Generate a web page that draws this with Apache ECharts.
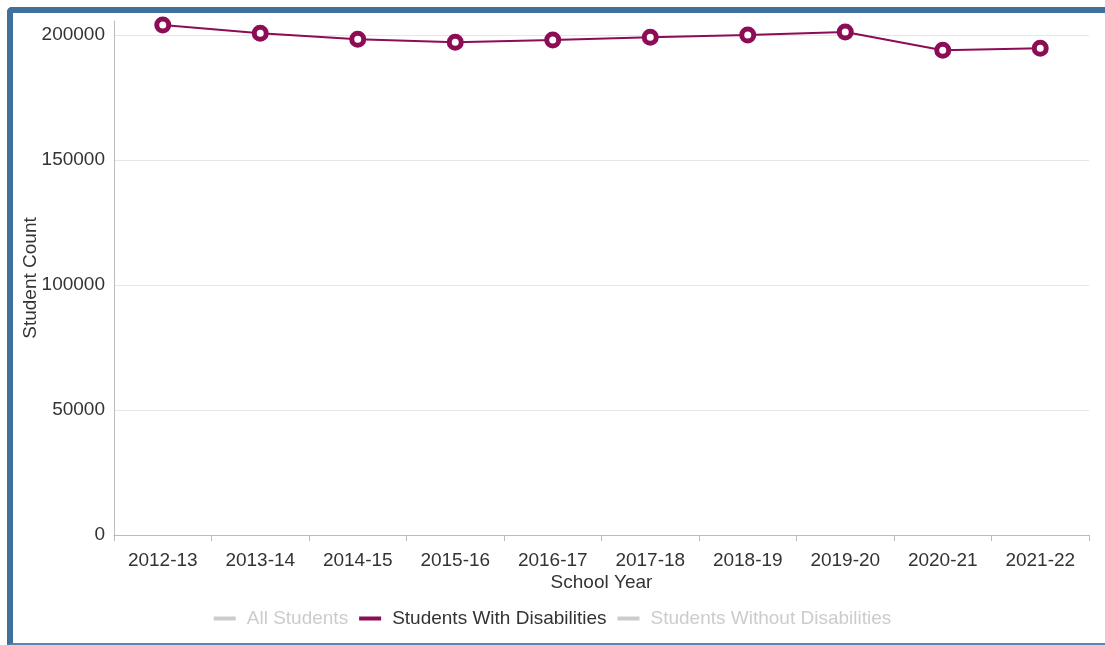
<!DOCTYPE html>
<html>
<head>
<meta charset="utf-8">
<script src="https://cdn.jsdelivr.net/npm/echarts@6/dist/echarts.min.js"></script>
<style>
  html, body { margin: 0; padding: 0; background: #fff; width: 1105px; height: 645px; overflow: hidden; }
  #frame { position: absolute; left: 7px; top: 7px; width: 1104px; height: 630px;
           border-left: 6px solid #41709f; border-top: 6px solid #41709f; border-bottom: 2px solid #5a86b3;
           border-top-left-radius: 5px; box-sizing: content-box; }
  #chart { position: absolute; left: 0; top: 0; width: 1105px; height: 645px; }
</style>
</head>
<body>
<div id="frame"></div>
<div id="chart"></div>
<script>
const categories = ['2012-13','2013-14','2014-15','2015-16','2016-17','2017-18','2018-19','2019-20','2020-21','2021-22'];
const allStudents = [];
const withDisabilities = [204000, 200700, 198300, 197100, 198000, 199100, 200000, 201200, 193900, 194700];
const withoutDisabilities = [];
const seriesNames = ['All Students', 'Students With Disabilities', 'Students Without Disabilities'];

const FONT = 'Liberation Sans, Arial, sans-serif';
const MAROON = '#8c0c55';
const chart = echarts.init(document.getElementById('chart'), null, { renderer: 'canvas' });
chart.setOption({
  animation: false,
  textStyle: { fontFamily: FONT },
  grid: { left: 114, right: 16, top: 21, bottom: 110 },
  legend: {
    data: [
      { name: seriesNames[0], itemStyle: { color: '#cccccc', borderWidth: 0 } },
      { name: seriesNames[1], itemStyle: { color: MAROON, borderWidth: 0 } },
      { name: seriesNames[2], itemStyle: { color: '#cccccc', borderWidth: 0 } }
    ],
    bottom: 12,
    left: 'center',
    icon: 'rect',
    itemWidth: 22,
    itemHeight: 4,
    itemGap: 11,
    textStyle: { fontSize: 19, color: '#333', fontFamily: FONT, padding: [0, 0, 0, 6] },
    inactiveColor: '#cccccc',
    selected: { 'All Students': false, 'Students With Disabilities': true, 'Students Without Disabilities': false }
  },
  xAxis: {
    type: 'category',
    data: categories,
    boundaryGap: true,
    name: 'School Year',
    nameLocation: 'middle',
    nameGap: 38,
    nameMoveOverlap: false,
    nameTextStyle: { fontSize: 19, color: '#333', fontFamily: FONT },
    axisLine: { lineStyle: { color: '#bbbbbb', width: 1 } },
    axisTick: { show: true, alignWithLabel: false, length: 6, lineStyle: { color: '#bbbbbb' } },
    axisLabel: { fontSize: 19, color: '#333', margin: 16, fontFamily: FONT }
  },
  yAxis: {
    type: 'value',
    min: 0,
    max: 205600,
    interval: 50000,
    name: 'Student Count',
    nameLocation: 'middle',
    nameGap: 74,
    nameMoveOverlap: false,
    nameRotate: 90,
    nameTextStyle: { fontSize: 19, color: '#333', fontFamily: FONT },
    axisLine: { show: true, lineStyle: { color: '#bbbbbb', width: 1 } },
    axisTick: { show: false },
    axisLabel: {
      fontSize: 19, color: '#333', margin: 9, fontFamily: FONT,
      showMaxLabel: false,
      formatter: function (v) { return (v % 50000 === 0) ? String(v) : ''; }
    },
    splitLine: { show: true, showMaxLine: false, lineStyle: { color: '#e6e6e6', width: 1 } }
  },
  series: [
    { name: seriesNames[0], type: 'line', data: allStudents, itemStyle: { color: '#cccccc' } },
    {
      name: seriesNames[1], type: 'line', data: withDisabilities,
      symbol: 'circle', symbolSize: 12, clip: false,
      lineStyle: { color: MAROON, width: 2 },
      itemStyle: { color: '#ffffff', borderColor: MAROON, borderWidth: 5 },
      color: MAROON
    },
    { name: seriesNames[2], type: 'line', data: withoutDisabilities, itemStyle: { color: '#cccccc' } }
  ]
});
</script>
</body>
</html>
